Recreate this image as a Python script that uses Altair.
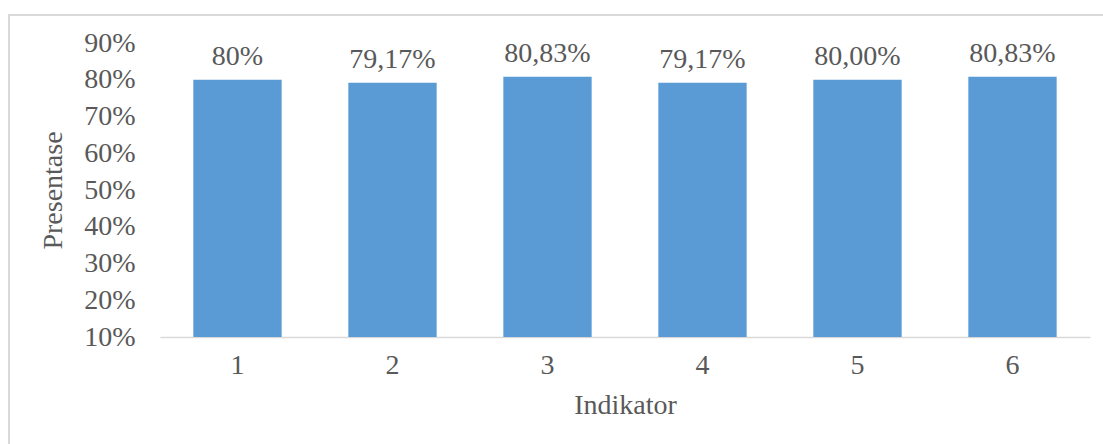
import altair as alt
import pandas as pd

categories = ["1", "2", "3", "4", "5", "6"]
values = [80.0, 79.17, 80.83, 79.17, 80.00, 80.83]
labels = ["80%", "79,17%", "80,83%", "79,17%", "80,00%", "80,83%"]
y_ticks = [10, 20, 30, 40, 50, 60, 70, 80, 90]

df = pd.DataFrame({"Indikator": categories, "value": values, "label": labels})

FONT = "Liberation Serif"
TXT = "#595959"
FS = 28

x_enc = alt.X("Indikator:N", title="Indikator", sort=categories,
              scale=alt.Scale(paddingInner=0.43, paddingOuter=0.215),
              axis=alt.Axis(labelAngle=0, ticks=False, domainColor="#D9D9D9",
                            domainWidth=1.5, labelPadding=14, titlePadding=12))
y_scale = alt.Scale(domain=[10, 90], zero=False, nice=False)
y_enc = alt.Y("value:Q", title="Presentase", scale=y_scale,
              axis=alt.Axis(values=y_ticks, labelExpr="datum.value + '%'",
                            ticks=False, domain=False, grid=False,
                            labelOverlap=False, labelPadding=25, titlePadding=16))

bars = alt.Chart(df).mark_bar(color="#5B9BD5").encode(
    x=x_enc,
    y=y_enc,
    y2=alt.datum(10),
)

text = alt.Chart(df).mark_text(baseline="bottom", dy=-9, font=FONT,
                               fontSize=FS, color=TXT).encode(
    x=x_enc,
    y=y_enc,
    text="label:N",
)

frame = alt.Chart(df).mark_rect(fill=None, stroke="#D9D9D9", strokeWidth=1.5).encode(
    x=alt.value(9 - 160), x2=alt.value(1103 - 160 + 10),
    y=alt.value(15 - 43), y2=alt.value(444 - 43 + 10),
)

chart = alt.layer(frame, bars, text).properties(
    width=930, height=294,
    padding={"left": 160, "top": 43, "right": 13, "bottom": 107},
    autosize=alt.AutoSizeParams(type="none"),
    background="white",
).configure_view(stroke=None, clip=False).configure_axis(
    labelFont=FONT, titleFont=FONT, labelFontSize=FS, titleFontSize=FS,
    labelColor=TXT, titleColor=TXT, titleFontWeight="normal",
    labelOverlap=False,
)

chart.save("out.html", embed_options={"renderer": "svg", "actions": False})
